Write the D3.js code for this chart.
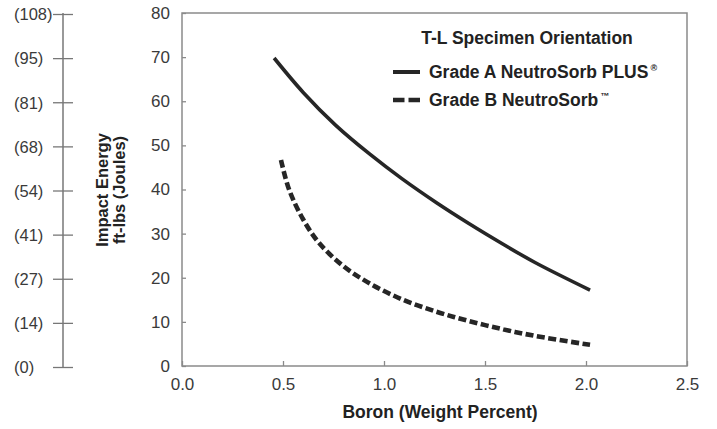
<!DOCTYPE html>
<html><head><meta charset="utf-8">
<script src="https://cdn.jsdelivr.net/npm/d3@7"></script>
<style>
html,body{margin:0;padding:0;background:#fff;}
svg{display:block;font-family:"Liberation Sans",Arial,Helvetica,sans-serif;}
</style></head>
<body><svg id="c" width="717" height="429"></svg>
<script>
// ---- data ----
const boronA  = [0.456, 0.60, 0.76, 0.93, 1.09, 1.26, 1.42, 1.59, 1.75, 2.02];
const energyA = [69.8, 62.0, 54.6, 48.0, 42.4, 37.0, 32.3, 27.6, 23.4, 17.2];
const boronB  = [0.49, 0.53, 0.60, 0.68, 0.80, 0.93, 1.09, 1.26, 1.42, 1.59, 1.75, 2.02];
const energyB = [46.7, 40.0, 33.2, 27.8, 22.6, 18.7, 15.1, 12.3, 10.2, 8.3, 6.8, 4.8];
const xTicks = [0.0, 0.5, 1.0, 1.5, 2.0, 2.5];
const yTicks = [0, 10, 20, 30, 40, 50, 60, 70, 80];
const joulesLabels = ["(0)", "(14)", "(27)", "(41)", "(54)", "(68)", "(81)", "(95)", "(108)"];
const legendTitle = "T-L Specimen Orientation";
const seriesNames = ["Grade A NeutroSorb PLUS", "Grade B NeutroSorb"];
const seriesMarks = ["\u00AE", "\u2122"];

const svg = d3.select("#c");
const x = d3.scaleLinear().domain([0, 2.5]).range([182, 687]);
const y = d3.scaleLinear().domain([0, 80]).range([366, 13]);

// frame
svg.append("rect").attr("x", x(0)).attr("y", y(80))
  .attr("width", x(2.5) - x(0)).attr("height", y(0) - y(80))
  .attr("fill", "none").attr("stroke", "#8a8a8a").attr("stroke-width", 1.5);

// x axis (ticks inside)
const xa = svg.append("g").attr("transform", `translate(0,${y(0)})`)
  .call(d3.axisBottom(x).tickValues(xTicks).tickFormat(d3.format(".1f")).tickSizeInner(-5).tickSizeOuter(0).tickPadding(12));
xa.select(".domain").remove();
xa.selectAll("line").attr("stroke", "#8a8a8a").attr("stroke-width", 1.3);
xa.selectAll("text").attr("font-size", 17).attr("fill", "#3a3a3a").attr("font-family", null);

// y axis (ticks inside)
const ya = svg.append("g").attr("transform", `translate(${x(0)},0)`)
  .call(d3.axisLeft(y).tickValues(yTicks).tickSizeInner(-4).tickSizeOuter(0).tickPadding(12));
ya.select(".domain").remove();
ya.selectAll("line").attr("stroke", "#8a8a8a").attr("stroke-width", 1.3);
ya.selectAll("text").attr("font-size", 17).attr("fill", "#3a3a3a").attr("font-family", null);

// secondary Joules axis
const jx = 63;
const jg = svg.append("g");
jg.append("line").attr("x1", jx).attr("x2", jx).attr("y1", y(80)).attr("y2", y(0) + 2)
  .attr("stroke", "#777").attr("stroke-width", 1.5);
yTicks.forEach((v, i) => {
  jg.append("line").attr("x1", jx - 10).attr("x2", jx + 10).attr("y1", y(v) + 1.5).attr("y2", y(v) + 1.5)
    .attr("stroke", "#777").attr("stroke-width", 1.3);
  jg.append("text").attr("x", 14).attr("y", y(v) + 1.5).attr("dy", "0.35em")
    .attr("font-size", 16.5).attr("fill", "#3a3a3a").text(joulesLabels[i]);
});

// y title
const yt = svg.append("text").attr("transform", `translate(108,190) rotate(-90)`)
  .attr("text-anchor", "middle").attr("font-size", 16.5).attr("font-weight", "bold").attr("fill", "#222");
yt.append("tspan").attr("x", 0).attr("y", 0).text("Impact Energy");
yt.append("tspan").attr("x", 0).attr("y", 17).text("ft-lbs (Joules)");

// x title
svg.append("text").attr("x", 440).attr("y", 418).attr("text-anchor", "middle")
  .attr("font-size", 17.5).attr("font-weight", "bold").attr("fill", "#222").text("Boron (Weight Percent)");

// curves
const line = d3.line().x(d => x(d[0])).y(d => y(d[1])).curve(d3.curveCatmullRom.alpha(0.5));
const dataA = boronA.map((b, i) => [b, energyA[i]]);
const dataB = boronB.map((b, i) => [b, energyB[i]]);
svg.append("path").attr("d", line(dataA)).attr("fill", "none")
  .attr("stroke", "#262626").attr("stroke-width", 3.6);
svg.append("path").attr("d", line(dataB)).attr("fill", "none")
  .attr("stroke", "#262626").attr("stroke-width", 4.6).attr("stroke-dasharray", "8,3.5");

// legend
svg.append("text").attr("x", 527).attr("y", 44).attr("text-anchor", "middle")
  .attr("font-size", 17.5).attr("font-weight", "bold").attr("fill", "#222").text(legendTitle);
const ly = [72, 100];
svg.append("line").attr("x1", 393).attr("x2", 420).attr("y1", ly[0]).attr("y2", ly[0])
  .attr("stroke", "#262626").attr("stroke-width", 4);
svg.append("line").attr("x1", 393).attr("x2", 420).attr("y1", ly[1]).attr("y2", ly[1])
  .attr("stroke", "#262626").attr("stroke-width", 4.5).attr("stroke-dasharray", "11.5,4");
seriesNames.forEach((n, i) => {
  const t = svg.append("text").attr("x", 429).attr("y", ly[i] + 6.3)
    .attr("font-size", 17.5).attr("font-weight", "bold").attr("fill", "#222");
  t.append("tspan").text(n);
  t.append("tspan").attr("dx", 2).attr("dy", -7).attr("font-size", 9).text(seriesMarks[i]);
});
</script></body></html>
